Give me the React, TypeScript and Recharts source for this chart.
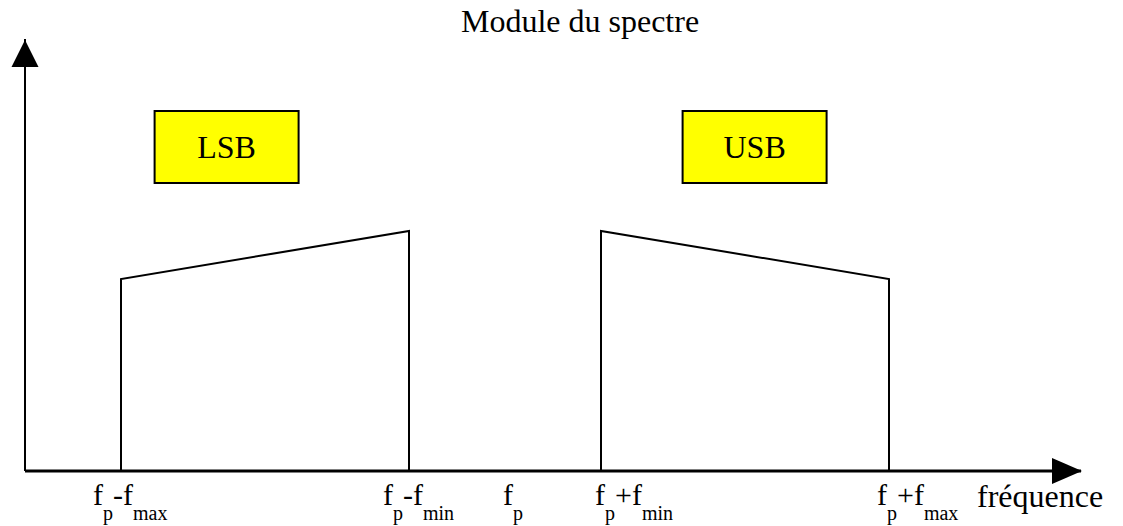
import React from 'react'
import {
  ComposedChart,
  Line,
  XAxis,
  YAxis,
  ReferenceArea,
  ReferenceDot,
} from 'recharts'

// frequency axis in units where fp = 10, fmin = 2, fmax = 8
const LSB_F = [2, 2, 8, 8]
const LSB_A = [0, 4, 5, 0]
const USB_F = [12, 12, 18, 18]
const USB_A = [0, 5, 4, 0]

const TICK_F = [2, 8, 10, 12, 18]
const TICK_LABELS: [string, string][][] = [
  [['f', 'p'], ['-f', 'max']],
  [['f', 'p'], ['-f', 'min']],
  [['f', 'p']],
  [['f', 'p'], ['+f', 'min']],
  [['f', 'p'], ['+f', 'max']],
]

const BANDS = [
  { name: 'LSB', from: 2.7, to: 5.7 },
  { name: 'USB', from: 13.7, to: 16.7 },
]
const BAND_LOW = 6
const BAND_HIGH = 7.5

const X_MAX = 22
const Y_MAX = 9

const lsbData = LSB_F.map((f, i) => ({ f, a: LSB_A[i] }))
const usbData = USB_F.map((f, i) => ({ f, a: USB_A[i] }))

const FONT = "'Liberation Serif', 'Times New Roman', serif"

// label offsets relative to the tick position
const TICK_DX = [-28, -26, -2, -6, -12]

const TickLabel = (props: any) => {
  const { x, y, index } = props
  const parts = TICK_LABELS[index] ?? []
  const spans: React.ReactNode[] = []
  parts.forEach(([main, sub], i) => {
    spans.push(<tspan key={'m' + i} dy={i === 0 ? 0 : -15} fontSize={30}>{main}</tspan>)
    spans.push(<tspan key={'s' + i} dy={15} fontSize={20}>{sub}</tspan>)
  })
  return (
    <text x={x + TICK_DX[index]} y={y + 34} fontFamily={FONT} fill="#000">
      {spans}
    </text>
  )
}

const XTitle = (props: any) => {
  const vb = props.viewBox
  return (
    <text x={vb.x + vb.width - 104} y={vb.y + 36} fontFamily={FONT} fontSize={32} fill="#000">
      fréquence
    </text>
  )
}

const YTitle = () => (
  <text x={580} y={32} textAnchor="middle" fontFamily={FONT} fontSize={32} fill="#000">
    Module du spectre
  </text>
)

const ArrowRight = (p: any) => (
  <polygon points={`${p.cx + 1},${p.cy} ${p.cx - 29},${p.cy - 13} ${p.cx - 29},${p.cy + 13}`} fill="#000" />
)
const ArrowUp = (p: any) => (
  <polygon points={`${p.cx},${p.cy + 1} ${p.cx - 13.5},${p.cy + 28} ${p.cx + 13.5},${p.cy + 28}`} fill="#000" />
)

export default function App() {
  return (
    <div style={{ position: 'absolute', left: 0, top: 0, background: '#fff' }}>
      <ComposedChart width={1123} height={526} margin={{ top: 39, right: 42, left: 0, bottom: 0 }}>
        <XAxis
          type="number"
          dataKey="f"
          domain={[0, X_MAX]}
          ticks={TICK_F}
          tick={<TickLabel />}
          tickLine={false}
          tickSize={0}
          tickMargin={0}
          height={55}
          axisLine={{ stroke: '#000', strokeWidth: 3 }}
          allowDataOverflow
          label={<XTitle />}
        />
        <YAxis
          type="number"
          domain={[0, Y_MAX]}
          tick={false}
          tickLine={false}
          width={25}
          axisLine={{ stroke: '#000', strokeWidth: 2 }}
          allowDataOverflow
          label={<YTitle />}
        />

        {BANDS.map(b => (
          <ReferenceArea
            key={b.name}
            x1={b.from}
            x2={b.to}
            y1={BAND_LOW}
            y2={BAND_HIGH}
            fill="#FFFF00"
            fillOpacity={1}
            stroke="#000"
            strokeWidth={2}
            label={{ value: b.name, position: 'center', fontSize: 32, fill: '#000', fontFamily: FONT }}
          />
        ))}

        <Line
          data={lsbData}
          dataKey="a"
          type="linear"
          stroke="#000"
          strokeWidth={2}
          dot={false}
          activeDot={false}
          isAnimationActive={false}
        />
        <Line
          data={usbData}
          dataKey="a"
          type="linear"
          stroke="#000"
          strokeWidth={2}
          dot={false}
          activeDot={false}
          isAnimationActive={false}
        />

        <ReferenceDot x={X_MAX} y={0} r={0} shape={<ArrowRight />} ifOverflow="visible" />
        <ReferenceDot x={0} y={Y_MAX} r={0} shape={<ArrowUp />} ifOverflow="visible" />
      </ComposedChart>
    </div>
  )
}
